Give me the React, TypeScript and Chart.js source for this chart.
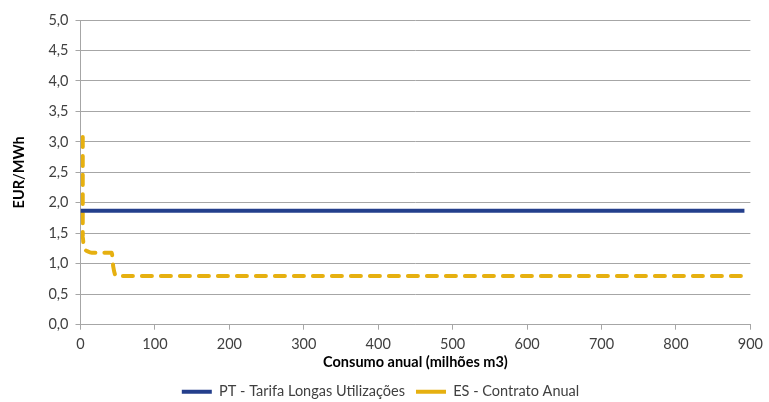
import React, { useEffect, useRef } from "react";
import { Chart, registerables } from "chart.js";

Chart.register(...registerables);

const ptX = [0, 892];
const ptY = [1.87, 1.87];
const esX = [3, 3, 4, 6, 10, 15, 42, 44, 48, 892];
const esY = [3.08, 1.45, 1.32, 1.24, 1.2, 1.18, 1.18, 0.95, 0.8, 0.8];
const seriesNames = ["PT - Tarifa Longas Utilizações", "ES - Contrato Anual"];
const xTitle = "Consumo anual (milhões m3)";
const yTitle = "EUR/MWh";

const FONT = "Lato, 'Open Sans', sans-serif";
const FS = 14.5;

export default function App() {
  const ref = useRef<HTMLCanvasElement>(null);
  useEffect(() => {
    document.body.style.margin = "0";
    const chart = new Chart(ref.current!, {
      type: "line",
      data: {
        datasets: [
          {
            label: seriesNames[0],
            data: ptX.map((x, i) => ({ x, y: ptY[i] })),
            borderColor: "#243F8C",
            backgroundColor: "#243F8C",
            borderWidth: 4,
            pointRadius: 0,
            tension: 0,
          },
          {
            label: seriesNames[1],
            data: esX.map((x, i) => ({ x, y: esY[i] })),
            borderColor: "#E6B010",
            backgroundColor: "#E6B010",
            borderWidth: 4,
            borderDash: [10, 9],
            borderCapStyle: "round",
            pointRadius: 0,
            cubicInterpolationMode: "monotone",
          },
        ],
      },
      options: {
        animation: false,
        responsive: false,
        maintainAspectRatio: false,
        layout: { padding: { left: 4, right: 12, top: 20, bottom: -7 } },
        plugins: {
          legend: {
            position: "bottom",
            labels: {
              usePointStyle: true,
              pointStyle: "line",
              pointStyleWidth: 30,
              boxHeight: FS,
              padding: 11,
              color: "#404040",
              font: { family: FONT, size: FS },
            },
          },
          tooltip: { enabled: false },
        },
        scales: {
          x: {
            type: "linear",
            min: 0,
            max: 900,
            ticks: { stepSize: 100, color: "#404040", font: { family: FONT, size: FS }, padding: 6 },
            grid: { display: true, drawOnChartArea: false, color: "#A6A6A6", tickLength: 5 },
            border: { color: "#A6A6A6" },
            title: { display: true, text: xTitle, color: "#000", font: { family: FONT, size: FS, weight: "bold" }, padding: { top: -5, bottom: 2 } },
          },
          y: {
            min: 0,
            max: 5,
            ticks: {
              stepSize: 0.5,
              color: "#404040",
              font: { family: FONT, size: FS },
              padding: 7,
              callback: (v: any) => Number(v).toFixed(1).replace(".", ","),
            },
            grid: { color: "#A6A6A6", tickLength: 5 },
            border: { color: "#A6A6A6" },
            title: { display: true, text: yTitle, color: "#000", font: { family: FONT, size: FS, weight: "bold" }, padding: { top: 7, bottom: 13 } },
          },
        },
      },
    });
    return () => chart.destroy();
  }, []);
  return (
    <div style={{ position: "fixed", left: 0, top: 0, width: 769, height: 402 }}>
      <canvas ref={ref} width={769} height={402} />
    </div>
  );
}
